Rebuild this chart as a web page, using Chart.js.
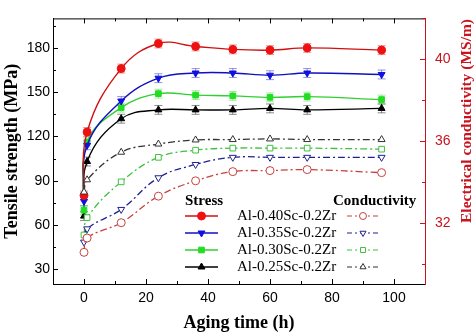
<!DOCTYPE html>
<html>
<head>
<meta charset="utf-8">
<script src="https://cdn.jsdelivr.net/npm/chart.js@4.4.1/dist/chart.umd.min.js"></script>
<style>
  html, body { margin: 0; padding: 0; background: #fff; }
  canvas { display: block; }
</style>
</head>
<body>
<canvas id="myChart" width="474" height="336"></canvas>
<script>
// aging time (h)
var times = [0, 1, 12, 24, 36, 48, 60, 72, 96];

// tensile strength (MPa)
var stress040 = [80, 123, 166, 183, 181, 179, 178.5, 180, 178.5];
var stress035 = [76, 114, 144, 159.5, 163, 163, 161.5, 163, 162];
var stress030 = [70, 116, 139.5, 149, 148, 147.5, 146.5, 147, 145];
var stress025 = [66, 103, 132, 138, 138, 138, 139, 138, 139];
var stressErr = [3, 3, 3, 3, 3, 3, 3, 3, 3];

// electrical conductivity (MS/m)
var cond040 = [30.55, 31.25, 32.0, 33.3, 34.05, 34.5, 34.55, 34.6, 34.45];
var cond035 = [31.05, 31.7, 32.65, 34.2, 34.85, 35.2, 35.2, 35.2, 35.2];
var cond030 = [31.4, 32.25, 34.0, 35.2, 35.55, 35.65, 35.65, 35.65, 35.6];
var cond025 = [33.5, 34.1, 35.45, 35.85, 36.05, 36.07, 36.1, 36.07, 36.07];

var alloys = ['Al-0.40Sc-0.2Zr', 'Al-0.35Sc-0.2Zr', 'Al-0.30Sc-0.2Zr', 'Al-0.25Sc-0.2Zr'];

var xTicks = [0, 20, 40, 60, 80, 100];
var yTicks = [30, 60, 90, 120, 150, 180];
var y2Ticks = [32, 36, 40];

var axisRed = '#c8141e';

function pts(ys) {
  return times.map(function(t, i) { return { x: t, y: ys[i] }; });
}

var styles = [
  { line: '#d01010', fill: '#ee1111', cline: '#c84040', shape: 'circle', rot: 0 },
  { line: '#1010c0', fill: '#1010e0', cline: '#202090', shape: 'triangle', rot: 180 },
  { line: '#30d030', fill: '#22dd22', cline: '#40c040', shape: 'rect', rot: 0 },
  { line: '#000000', fill: '#000000', cline: '#333333', shape: 'triangle', rot: 0 }
];

var stressSets = [stress040, stress035, stress030, stress025];
var condSets = [cond040, cond035, cond030, cond025];

var datasets = [];
condSets.forEach(function(ys, i) {
  var s = styles[i];
  datasets.push({
    label: alloys[i] + ' conductivity',
    data: pts(ys),
    yAxisID: 'y2',
    borderColor: s.cline,
    borderWidth: 1.3,
    borderDash: [7, 3, 2, 3],
    tension: 0.4,
    pointStyle: s.shape,
    pointRotation: s.rot,
    pointRadius: 4,
    pointBorderWidth: 1,
    pointBorderColor: s.cline,
    pointBackgroundColor: '#ffffff'
  });
});
stressSets.forEach(function(ys, i) {
  var s = styles[i];
  datasets.push({
    label: alloys[i] + ' stress',
    data: pts(ys),
    errors: stressErr,
    yAxisID: 'y',
    borderColor: s.line,
    borderWidth: 1.4,
    tension: 0.4,
    pointStyle: s.shape,
    pointRotation: s.rot,
    pointRadius: 4,
    pointBorderWidth: 1,
    pointBorderColor: s.fill,
    pointBackgroundColor: s.fill
  });
});

// error bars on the stress points
var errorBars = {
  id: 'errorBars',
  beforeDatasetsDraw: function(chart) {
    var ctx = chart.ctx;
    chart.data.datasets.forEach(function(ds, i) {
      if (!ds.errors) return;
      var meta = chart.getDatasetMeta(i);
      var scale = chart.scales[ds.yAxisID];
      ctx.save();
      ctx.strokeStyle = ds.borderColor;
      ctx.globalAlpha = 0.45;
      ctx.lineWidth = 1;
      meta.data.forEach(function(el, j) {
        var v = ds.data[j].y, e = ds.errors[j];
        var top = scale.getPixelForValue(v + e);
        var bot = scale.getPixelForValue(v - e);
        ctx.beginPath();
        ctx.moveTo(el.x, top); ctx.lineTo(el.x, bot);
        ctx.moveTo(el.x - 4, top); ctx.lineTo(el.x + 4, top);
        ctx.moveTo(el.x - 4, bot); ctx.lineTo(el.x + 4, bot);
        ctx.stroke();
      });
      ctx.restore();
    });
  }
};

// frame, inward ticks, right title and the two-column legend
var frame = {
  id: 'frame',
  afterDraw: function(chart) {
    var ctx = chart.ctx;
    var a = chart.chartArea;
    var sx = chart.scales.x, sy = chart.scales.y, sy2 = chart.scales.y2;
    ctx.save();
    ctx.lineWidth = 1;
    ctx.strokeStyle = '#000';
    ctx.beginPath();
    ctx.moveTo(a.left, a.top + 0.5); ctx.lineTo(a.right, a.top + 0.5);
    for (var t = 0; t <= 100; t += 10) {
      var px = Math.round(sx.getPixelForValue(t)) + 0.5;
      var len = t % 20 == 0 ? 5 : 3;
      ctx.moveTo(px, a.bottom); ctx.lineTo(px, a.bottom - len);
      ctx.moveTo(px, a.top); ctx.lineTo(px, a.top + len);
    }
    for (var v = 30; v <= 195; v += 15) {
      var py = Math.round(sy.getPixelForValue(v)) + 0.5;
      var l2 = v % 30 == 0 ? 5 : 3;
      ctx.moveTo(a.left, py); ctx.lineTo(a.left + l2, py);
    }
    ctx.stroke();
    ctx.strokeStyle = axisRed;
    ctx.beginPath();
    for (var c = 30; c <= 42; c += 2) {
      var py2 = Math.round(sy2.getPixelForValue(c)) + 0.5;
      var l3 = c % 4 == 0 ? 5 : 3;
      ctx.moveTo(a.right, py2); ctx.lineTo(a.right - l3, py2);
    }
    ctx.stroke();

    // right axis title, reading bottom to top
    ctx.save();
    ctx.translate(467, 121);
    ctx.rotate(-Math.PI / 2);
    ctx.fillStyle = axisRed;
    ctx.font = 'bold 15.5px "Liberation Serif"';
    ctx.textAlign = 'center';
    ctx.textBaseline = 'middle';
    ctx.fillText('Electrical conductivity (MS/m)', 0, 0);
    ctx.restore();

    // legend
    ctx.fillStyle = '#000';
    ctx.font = 'bold 15px "Liberation Serif"';
    ctx.textBaseline = 'middle';
    ctx.textAlign = 'left';
    ctx.fillText('Stress', 185, 201);
    ctx.fillText('Conductivity', 333, 201);
    var rows = [216, 233, 250, 267];
    ctx.font = '15px "Liberation Serif"';
    styles.forEach(function(s, i) {
      var y = rows[i];
      ctx.fillStyle = '#000';
      ctx.fillText(alloys[i], 237, y);
      // stress sample
      ctx.setLineDash([]);
      ctx.strokeStyle = s.line;
      ctx.lineWidth = 1.4;
      ctx.beginPath(); ctx.moveTo(185, y); ctx.lineTo(218, y); ctx.stroke();
      ctx.fillStyle = s.fill;
      ctx.strokeStyle = s.fill;
      ctx.lineWidth = 1;
      Chart.helpers.drawPoint(ctx, { pointStyle: s.shape, radius: 4, rotation: s.rot, borderWidth: 1 }, 201.5, y);
      // conductivity sample
      ctx.strokeStyle = s.cline;
      ctx.lineWidth = 1.2;
      ctx.setLineDash([5, 3, 2, 3]);
      ctx.beginPath(); ctx.moveTo(347, y); ctx.lineTo(379, y); ctx.stroke();
      ctx.setLineDash([]);
      ctx.fillStyle = '#fff';
      ctx.lineWidth = 1;
      Chart.helpers.drawPoint(ctx, { pointStyle: s.shape, radius: 3.5, rotation: s.rot, borderWidth: 1 }, 363, y);
    });
    ctx.restore();
  }
};

var ctx = document.getElementById('myChart').getContext('2d');
var myChart = new Chart(ctx, {
  type: 'line',
  data: { datasets: datasets },
  options: {
    responsive: false,
    devicePixelRatio: 1,
    animation: false,
    layout: { padding: { top: 13, left: 0, right: 0, bottom: 0 } },
    plugins: {
      legend: { display: false },
      tooltip: { enabled: false }
    },
    scales: {
      x: {
        type: 'linear',
        min: -10,
        max: 110,
        afterBuildTicks: function(s) { s.ticks = xTicks.map(function(v) { return { value: v }; }); },
        afterFit: function(s) { s.height = 52; },
        grid: { display: false, drawTicks: false },
        border: { display: true, color: '#000', width: 1 },
        ticks: { color: '#000', padding: 6, font: { family: '"Liberation Sans"', size: 14 } },
        title: {
          display: true,
          text: 'Aging time (h)',
          color: '#000',
          font: { family: '"Liberation Serif"', size: 18, weight: 'bold' },
          padding: { top: 0, bottom: 2 }
        }
      },
      y: {
        position: 'left',
        min: 20,
        max: 200,
        afterBuildTicks: function(s) { s.ticks = yTicks.map(function(v) { return { value: v }; }); },
        afterFit: function(s) { s.width = 53; },
        grid: { display: false, drawTicks: false },
        border: { display: true, color: '#000', width: 1 },
        ticks: { color: '#000', padding: 3, font: { family: '"Liberation Sans"', size: 14 } },
        title: {
          display: true,
          text: 'Tensile strength (MPa)',
          color: '#000',
          font: { family: '"Liberation Serif"', size: 18, weight: 'bold' },
          padding: { top: 2, bottom: 0 }
        }
      },
      y2: {
        position: 'right',
        min: 29,
        max: 42,
        afterBuildTicks: function(s) { s.ticks = y2Ticks.map(function(v) { return { value: v }; }); },
        afterFit: function(s) { s.width = 49; },
        grid: { display: false, drawTicks: false },
        border: { display: true, color: axisRed, width: 1 },
        ticks: { color: axisRed, padding: 10, font: { family: '"Liberation Sans"', size: 14 } }
      }
    }
  },
  plugins: [errorBars, frame]
});
</script>
</body>
</html>
